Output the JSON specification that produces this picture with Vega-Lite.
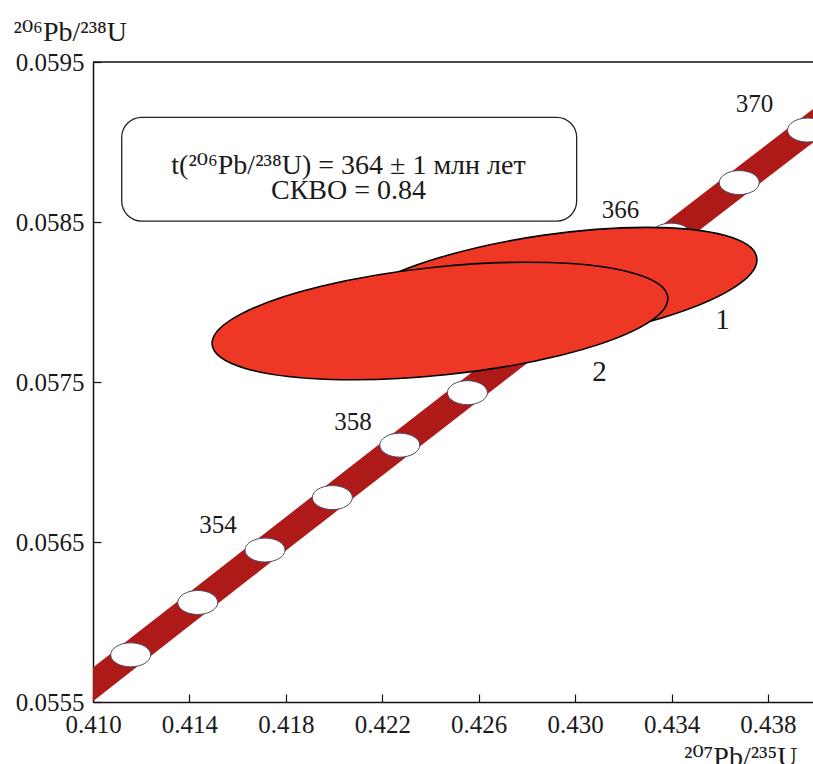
{
  "$schema": "https://vega.github.io/schema/vega-lite/v6.json",
  "width": 720,
  "height": 640,
  "autosize": {"type": "none"},
  "padding": {"left": 93, "top": 62, "right": 0, "bottom": 62},
  "background": "white",
  "config": {
    "view": {"stroke": null},
    "font": "Liberation Serif, DejaVu Serif, serif",
    "axis": {
      "grid": false,
      "domainColor": "#111111",
      "domainWidth": 1.5,
      "tickColor": "#111111",
      "tickWidth": 1.2,
      "tickSize": -8,
      "labelFontSize": 25,
      "labelColor": "#1a1a1a",
      "labelFlush": false,
      "labelOverlap": false,
      "titleFontSize": 28,
      "titleFontWeight": "normal",
      "titleColor": "#1a1a1a"
    }
  },
  "datasets": {
    "band": [
      {"t": 346, "x": 0.406013, "lo": 0.0550348, "hi": 0.0552448},
      {"t": 348, "x": 0.408785, "lo": 0.0553621, "hi": 0.0555721},
      {"t": 350, "x": 0.411563, "lo": 0.0556896, "hi": 0.0558996},
      {"t": 352, "x": 0.414346, "lo": 0.0560171, "hi": 0.0562271},
      {"t": 354, "x": 0.417135, "lo": 0.0563448, "hi": 0.0565548},
      {"t": 356, "x": 0.419929, "lo": 0.0566726, "hi": 0.0568826},
      {"t": 358, "x": 0.422728, "lo": 0.0570004, "hi": 0.0572104},
      {"t": 360, "x": 0.425533, "lo": 0.0573284, "hi": 0.0575384},
      {"t": 362, "x": 0.428344, "lo": 0.0576565, "hi": 0.0578665},
      {"t": 364, "x": 0.431160, "lo": 0.0579846, "hi": 0.0581946},
      {"t": 366, "x": 0.433982, "lo": 0.0583129, "hi": 0.0585229},
      {"t": 368, "x": 0.436809, "lo": 0.0586413, "hi": 0.0588513},
      {"t": 370, "x": 0.439642, "lo": 0.0589697, "hi": 0.0591797},
      {"t": 372, "x": 0.442481, "lo": 0.0592983, "hi": 0.0595083},
      {"t": 374, "x": 0.445325, "lo": 0.0596270, "hi": 0.0598370}
    ],
    "ticks": [
      {"t": 350, "x": 0.411563, "y": 0.0557946},
      {"t": 352, "x": 0.414346, "y": 0.0561221},
      {"t": 354, "x": 0.417135, "y": 0.0564498},
      {"t": 356, "x": 0.419929, "y": 0.0567776},
      {"t": 358, "x": 0.422728, "y": 0.0571054},
      {"t": 360, "x": 0.425533, "y": 0.0574334},
      {"t": 362, "x": 0.428344, "y": 0.0577615},
      {"t": 364, "x": 0.431160, "y": 0.0580896},
      {"t": 366, "x": 0.433982, "y": 0.0584179},
      {"t": 368, "x": 0.436809, "y": 0.0587463},
      {"t": 370, "x": 0.439642, "y": 0.0590747}
    ],
    "spots": [
      {"id": "1", "x": 0.428957, "y": 0.0580875},
      {"id": "2", "x": 0.424394, "y": 0.0578813}
    ],
    "box": [
      {"x": 0.411191, "x2": 0.430065, "y": 0.059154, "y2": 0.058506}
    ],
    "boxtext": [
      {"text": "t(²⁰⁶Pb/²³⁸U) = 364 ± 1 млн лет", "x": 0.4206, "y": 0.0588},
      {"text": "СКВО = 0.84", "x": 0.4206, "y": 0.058642}
    ],
    "agelabels": [
      {"text": "354", "x": 0.415185, "y": 0.0566063},
      {"text": "358", "x": 0.420785, "y": 0.0572531},
      {"text": "366", "x": 0.431882, "y": 0.0585719},
      {"text": "370", "x": 0.43744, "y": 0.0592406}
    ],
    "spotlabels": [
      {"text": "1", "x": 0.436113, "y": 0.0578844},
      {"text": "2", "x": 0.431011, "y": 0.0575594}
    ],
    "frame": [
      {"y": 0.0595}
    ]
  },
  "layer": [
    {
      "data": {"name": "band"},
      "mark": {"type": "area", "color": "#AE1A17", "clip": true, "opacity": 1},
      "encoding": {
        "x": {
          "field": "x", "type": "quantitative",
          "scale": {"domain": [0.41, 0.43987], "nice": false, "zero": false},
          "axis": {
            "title": "²⁰⁷Pb/²³⁵U",
            "values": [0.41, 0.414, 0.418, 0.422, 0.426, 0.43, 0.434, 0.438],
            "format": ".3f",
            "labelFont": "Liberation Serif",
            "titleFont": "Liberation Serif, DejaVu Serif, serif",
            "labelPadding": 18,
            "titleX": 704,
            "titleY": 63,
            "titleAlign": "right",
            "titleBaseline": "alphabetic"
          }
        },
        "y": {
          "field": "lo", "type": "quantitative",
          "scale": {"domain": [0.0555, 0.0595], "nice": false, "zero": false},
          "axis": {
            "title": "²⁰⁶Pb/²³⁸U",
            "values": [0.0555, 0.0565, 0.0575, 0.0585, 0.0595],
            "format": ".4f",
            "labelFont": "Liberation Serif",
            "titleFont": "Liberation Serif, DejaVu Serif, serif",
            "labelPadding": 17,
            "titleAngle": 0,
            "titleX": -80,
            "titleY": -22,
            "titleAlign": "left",
            "titleBaseline": "alphabetic"
          }
        },
        "y2": {"field": "hi"}
      }
    },
    {
      "data": {"name": "frame"},
      "mark": {"type": "rule", "color": "#111111", "strokeWidth": 1.5},
      "encoding": {"y": {"field": "y", "type": "quantitative", "scale": {"domain": [0.0555, 0.0595], "nice": false, "zero": false}}}
    },
    {
      "data": {"name": "ticks"},
      "mark": {"type": "point", "shape": "M-20,0A20,12,0,1,1,20,0A20,12,0,1,1,-20,0Z", "size": 4, "filled": true, "fill": "#ffffff", "stroke": "#4a4a6a", "strokeWidth": 1, "opacity": 1},
      "encoding": {
        "x": {"field": "x", "type": "quantitative", "scale": {"domain": [0.41, 0.43987], "nice": false, "zero": false}},
        "y": {"field": "y", "type": "quantitative", "scale": {"domain": [0.0555, 0.0595], "nice": false, "zero": false}}
      }
    },
    {
      "data": {"name": "spots"},
      "mark": {"type": "point", "size": 4, "filled": true, "fill": "#EE3724", "stroke": "#000000", "strokeWidth": 1.6, "opacity": 1},
      "encoding": {
        "x": {"field": "x", "type": "quantitative", "scale": {"domain": [0.41, 0.43987], "nice": false, "zero": false}},
        "y": {"field": "y", "type": "quantitative", "scale": {"domain": [0.0555, 0.0595], "nice": false, "zero": false}},
        "shape": {
          "field": "id", "type": "nominal", "legend": null,
          "scale": {
            "domain": ["1", "2"],
            "range": [
              "M206.81,-30.17A209,53,-8.3,1,1,-206.81,30.17A209,53,-8.3,1,1,206.81,-30.17Z",
              "M227.77,-23.7A229,54,-5.94,1,1,-227.77,23.7A229,54,-5.94,1,1,227.77,-23.7Z"
            ]
          }
        }
      }
    },
    {
      "data": {"name": "box"},
      "mark": {"type": "rect", "fill": "#ffffff", "stroke": "#222222", "strokeWidth": 1.3, "cornerRadius": 20},
      "encoding": {
        "x": {"field": "x", "type": "quantitative", "scale": {"domain": [0.41, 0.43987], "nice": false, "zero": false}},
        "x2": {"field": "x2"},
        "y": {"field": "y", "type": "quantitative", "scale": {"domain": [0.0555, 0.0595], "nice": false, "zero": false}},
        "y2": {"field": "y2"}
      }
    },
    {
      "data": {"name": "boxtext"},
      "mark": {"type": "text", "fontSize": 28, "align": "center", "baseline": "alphabetic", "color": "#1a1a1a"},
      "encoding": {
        "x": {"field": "x", "type": "quantitative", "scale": {"domain": [0.41, 0.43987], "nice": false, "zero": false}},
        "y": {"field": "y", "type": "quantitative", "scale": {"domain": [0.0555, 0.0595], "nice": false, "zero": false}},
        "text": {"field": "text"}
      }
    },
    {
      "data": {"name": "agelabels"},
      "mark": {"type": "text", "fontSize": 25, "align": "center", "baseline": "middle", "color": "#1a1a1a"},
      "encoding": {
        "x": {"field": "x", "type": "quantitative", "scale": {"domain": [0.41, 0.43987], "nice": false, "zero": false}},
        "y": {"field": "y", "type": "quantitative", "scale": {"domain": [0.0555, 0.0595], "nice": false, "zero": false}},
        "text": {"field": "text"}
      }
    },
    {
      "data": {"name": "spotlabels"},
      "mark": {"type": "text", "fontSize": 29, "align": "center", "baseline": "middle", "color": "#1a1a1a"},
      "encoding": {
        "x": {"field": "x", "type": "quantitative", "scale": {"domain": [0.41, 0.43987], "nice": false, "zero": false}},
        "y": {"field": "y", "type": "quantitative", "scale": {"domain": [0.0555, 0.0595], "nice": false, "zero": false}},
        "text": {"field": "text"}
      }
    }
  ]
}
